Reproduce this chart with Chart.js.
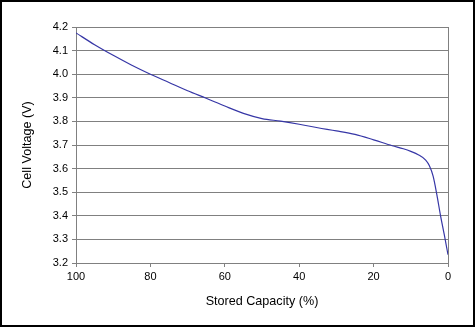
<!DOCTYPE html>
<html>
<head>
<meta charset="utf-8">
<script src="https://cdn.jsdelivr.net/npm/chart.js@4/dist/chart.umd.min.js"></script>
<style>
html,body{margin:0;padding:0;background:#fff;}
#wrap{width:475px;height:327px;position:relative;}
</style>
</head>
<body>
<div id="wrap"><canvas id="c" width="475" height="327"></canvas></div>
<script>
const capacity = [100, 95, 90, 85, 80, 75, 70, 65, 60, 55, 50, 45, 40, 35, 30, 25, 20, 15, 12, 10, 8, 6, 5, 4, 3, 2, 1, 0];
const voltage  = [4.175, 4.125, 4.08, 4.038, 4.0, 3.965, 3.93, 3.898, 3.865, 3.834, 3.812, 3.801, 3.788, 3.773, 3.760, 3.745, 3.722, 3.697, 3.684, 3.673, 3.659, 3.636, 3.612, 3.568, 3.49, 3.40, 3.32, 3.235];
const xTicks = [100, 80, 60, 40, 20, 0];
const yTicks = [3.2, 3.3, 3.4, 3.5, 3.6, 3.7, 3.8, 3.9, 4.0, 4.1, 4.2];

const points = capacity.map((c, i) => ({x: c, y: voltage[i]}));

const frame = {
  id: 'frame',
  afterDraw(chart) {
    const ctx = chart.ctx;
    ctx.save();
    ctx.strokeStyle = '#000';
    ctx.lineWidth = 2;
    ctx.strokeRect(1, 1, 473, 325);
    ctx.restore();
  }
};

new Chart(document.getElementById('c'), {
  type: 'line',
  data: {
    datasets: [{
      data: points,
      borderColor: '#3636a6',
      borderWidth: 1.2,
      pointRadius: 0,
      fill: false,
      cubicInterpolationMode: 'monotone'
    }]
  },
  options: {
    responsive: false,
    animation: false,
    devicePixelRatio: 1,
    layout: {padding: {top: 27, right: 27, left: 0, bottom: 0}},
    plugins: {legend: {display: false}, tooltip: {enabled: false}},
    scales: {
      x: {
        type: 'linear',
        reverse: true,
        min: 0, max: 100,
        afterFit: s => { s.height = 64; },
        afterBuildTicks: s => { s.ticks = xTicks.map(v => ({value: v})); },
        ticks: {color: '#000', font: {family: 'Liberation Sans, Arial', size: 11}, padding: 3, maxRotation: 0},
        grid: {
          color: c => (c.tick && c.tick.value === 0) ? '#808080' : 'rgba(0,0,0,0)',
          tickColor: '#808080',
          tickLength: 4,
          drawOnChartArea: true
        },
        border: {color: '#808080', width: 1},
        title: {display: true, text: 'Stored Capacity (%)', color: '#000', font: {family: 'Liberation Sans, Arial', size: 12.6}, padding: {top: 0, bottom: 18}}
      },
      y: {
        type: 'linear',
        min: 3.2, max: 4.2,
        afterFit: s => { s.width = 76; },
        afterBuildTicks: s => { s.ticks = yTicks.map(v => ({value: v})); },
        ticks: {color: '#000', font: {family: 'Liberation Sans, Arial', size: 11}, padding: 4, callback: v => Number(v).toFixed(1)},
        grid: {color: '#808080', tickColor: '#808080', tickLength: 4, lineWidth: 1},
        border: {color: '#808080', width: 1},
        title: {display: true, text: 'Cell Voltage (V)', color: '#000', font: {family: 'Liberation Sans, Arial', size: 12.6}, padding: {top: 20, bottom: 0}}
      }
    }
  },
  plugins: [frame]
});
</script>
</body>
</html>
